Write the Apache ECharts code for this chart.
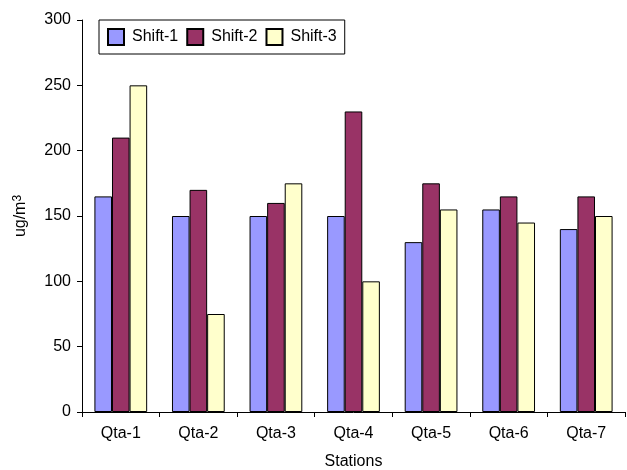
<!DOCTYPE html>
<html>
<head>
<meta charset="utf-8">
<script src="https://cdn.jsdelivr.net/npm/echarts@6/dist/echarts.min.js"></script>
<style>
  html, body { margin: 0; padding: 0; background: #fff; }
  #chart { width: 627px; height: 470px; }
</style>
</head>
<body>
<div id="chart"></div>
<script>
// Stations along the x axis
const stations = ['Qta-1', 'Qta-2', 'Qta-3', 'Qta-4', 'Qta-5', 'Qta-6', 'Qta-7'];
// Concentration per shift (ug/m3)
const shift1 = [165, 150, 150, 150, 130, 155, 140];
const shift2 = [210, 170, 160, 230, 175, 165, 165];
const shift3 = [250, 75, 175, 100, 155, 145, 150];
const seriesNames = ['Shift-1', 'Shift-2', 'Shift-3'];
const seriesColors = ['#9999FF', '#993366', '#FFFFCC'];

const font = 'Arial, "Liberation Sans", sans-serif';
const chart = echarts.init(document.getElementById('chart'), null, { renderer: 'canvas' });

const bar = (name, data, color) => ({
  name: name,
  type: 'bar',
  data: data,
  barGap: '0%',
  barCategoryGap: '32%',
  itemStyle: { color: color, borderColor: '#000', borderWidth: 1 },
  emphasis: { disabled: true }
});

chart.setOption({
  animation: false,
  backgroundColor: '#fff',
  textStyle: { fontFamily: font, color: '#000' },
  grid: { left: 82, right: 2, top: 20, bottom: 58, containLabel: false, outerBoundsMode: 'none' },
  legend: {
    left: 99,
    top: 20,
    orient: 'horizontal',
    data: seriesNames,
    itemWidth: 16,
    itemHeight: 16,
    itemGap: 8,
    padding: [8, 8, 8, 8],
    backgroundColor: '#fff',
    borderColor: '#000',
    borderWidth: 1,
    textStyle: { fontFamily: font, fontSize: 16, color: '#000', padding: [0, 0, 0, 3] },
    icon: 'rect'
  },
  xAxis: {
    type: 'category',
    data: stations,
    name: 'Stations',
    nameLocation: 'middle',
    nameGap: 42,
    nameTextStyle: { fontFamily: font, fontSize: 16, color: '#000' },
    axisLine: { lineStyle: { color: '#000', width: 1 } },
    axisTick: { show: true, length: 5, lineStyle: { color: '#000' }, alignWithLabel: false },
    axisLabel: { fontFamily: font, fontSize: 16, color: '#000', margin: 14 },
    splitLine: { show: false }
  },
  yAxis: {
    type: 'value',
    min: 0,
    max: 300,
    interval: 50,
    name: '{a|ug/m}{b|3}',
    nameLocation: 'middle',
    nameRotate: 90,
    nameGap: 52,
    nameTextStyle: {
      fontFamily: font,
      rich: {
        a: { fontFamily: font, fontSize: 16, color: '#000' },
        b: { fontFamily: font, fontSize: 12, color: '#000', verticalAlign: 'top', padding: [0, 0, 6, 0] }
      }
    },
    axisLine: { show: true, lineStyle: { color: '#000', width: 1 } },
    axisTick: { show: true, length: 5, lineStyle: { color: '#000' } },
    axisLabel: { fontFamily: font, fontSize: 16, color: '#000', margin: 11 },
    splitLine: { show: false }
  },
  series: [
    bar(seriesNames[0], shift1, seriesColors[0]),
    bar(seriesNames[1], shift2, seriesColors[1]),
    bar(seriesNames[2], shift3, seriesColors[2])
  ]
});
</script>
</body>
</html>
